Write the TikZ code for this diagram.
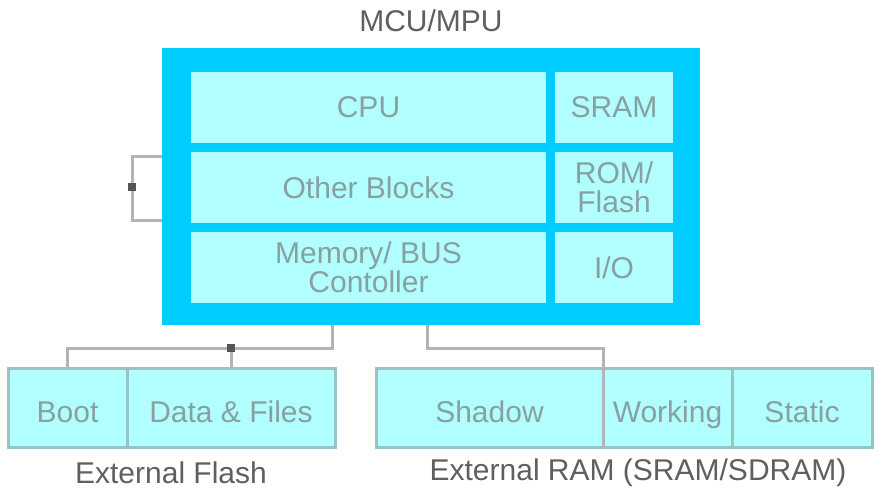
\documentclass[tikz,border=0pt]{standalone}
\usepackage{fontspec}
\setmainfont{Liberation Sans}
\usetikzlibrary{positioning}
\definecolor{mcublue}{RGB}{0,204,255}
\definecolor{cellcyan}{RGB}{178,255,255}
\definecolor{celltext}{RGB}{135,160,160}
\definecolor{wiregray}{RGB}{180,180,180}
\definecolor{edgegray}{RGB}{155,195,195}
\definecolor{dotgray}{RGB}{85,85,85}
\definecolor{captext}{RGB}{95,95,95}
\tikzset{
    %Define style for the chip body
    chip/.style={
           rectangle,
           fill=mcublue,
           inner sep=0pt,
           outer sep=0pt},
    %Define style for blocks inside the chip
    blk/.style={
           rectangle,
           fill=cellcyan,
           text=celltext,
           inner sep=0pt,
           outer sep=0pt,
           minimum height=71pt,
           align=center,
           font=\fontsize{30}{29}\selectfont},
    %Define style for external memory boxes
    ext/.style={
           rectangle,
           fill=cellcyan,
           draw=edgegray,
           line width=3pt,
           text=celltext,
           inner sep=0pt,
           outer sep=0pt,
           minimum height=79pt,
           text height=30pt,
           text depth=0pt,
           font=\fontsize{30}{30}\selectfont},
    % Define wire style
    wire/.style={
           draw=wiregray,
           line width=3pt},
    junc/.style={
           rectangle,
           fill=dotgray,
           minimum size=8pt,
           inner sep=0pt},
    memlabel/.style={
           text=captext,
           font=\fontsize{30}{30}\selectfont}
}

\begin{document}
\begin{tikzpicture}[x=1pt,y=1pt,node distance=9pt]
  \useasboundingbox (0,0) rectangle (882,-496);
  \node[chip,anchor=north west,minimum width=538pt,minimum height=277pt] (mcu) at (162,-48) {};
  \node[memlabel] (title) at (431,-21) {MCU/MPU};
  \node[blk,anchor=north west,minimum width=355pt] (cpu) at (191,-72) {CPU};
  \node[blk,minimum width=118pt,right=of cpu] (sram) {SRAM};
  \node[blk,minimum width=355pt,below=of cpu] (other) {Other Blocks};
  \node[blk,minimum width=118pt,below=of sram] (rom) {ROM/\\Flash};
  \node[blk,minimum width=355pt,below=of other] (mem) {Memory/ BUS\\Contoller};
  \node[blk,minimum width=118pt,below=of rom] (io) {I/O};
  % external flash
  \node[ext,anchor=north west,minimum width=119pt] (boot) at (8,-368) {Boot};
  \node[ext,minimum width=208pt,right=0pt of boot] (data) {Data \& Files};
  % external ram
  \node[ext,anchor=north west,minimum width=227pt] (shadow) at (376,-368) {Shadow};
  \node[ext,minimum width=129pt,right=0pt of shadow] (working) {Working};
  \node[ext,minimum width=140pt,right=0pt of working] (static) {Static};
  \node[memlabel] (flashlbl) at (171,-473) {External Flash};
  \node[memlabel] (ramlbl) at (638,-473) {External RAM (SRAM/SDRAM)};
  % wires
  \coordinate (jflash) at (231,-348);
  \coordinate (jleft) at (132,-187);
  \draw[wire] ([xshift=170pt]mcu.south west) |- (jflash) -| (boot.north);
  \draw[wire] (jflash) -- (data.north);
  \draw[wire] ([xshift=265pt]mcu.south west) |- ([yshift=20pt]shadow.north east) -- (shadow.south east);
  \draw[wire] ([yshift=-108pt]mcu.north west) -| (jleft) |- ([yshift=-172pt]mcu.north west);
  \node[junc] (jf) at (jflash) {};
  \node[junc] (jl) at (jleft) {};
\end{tikzpicture}
\end{document}
